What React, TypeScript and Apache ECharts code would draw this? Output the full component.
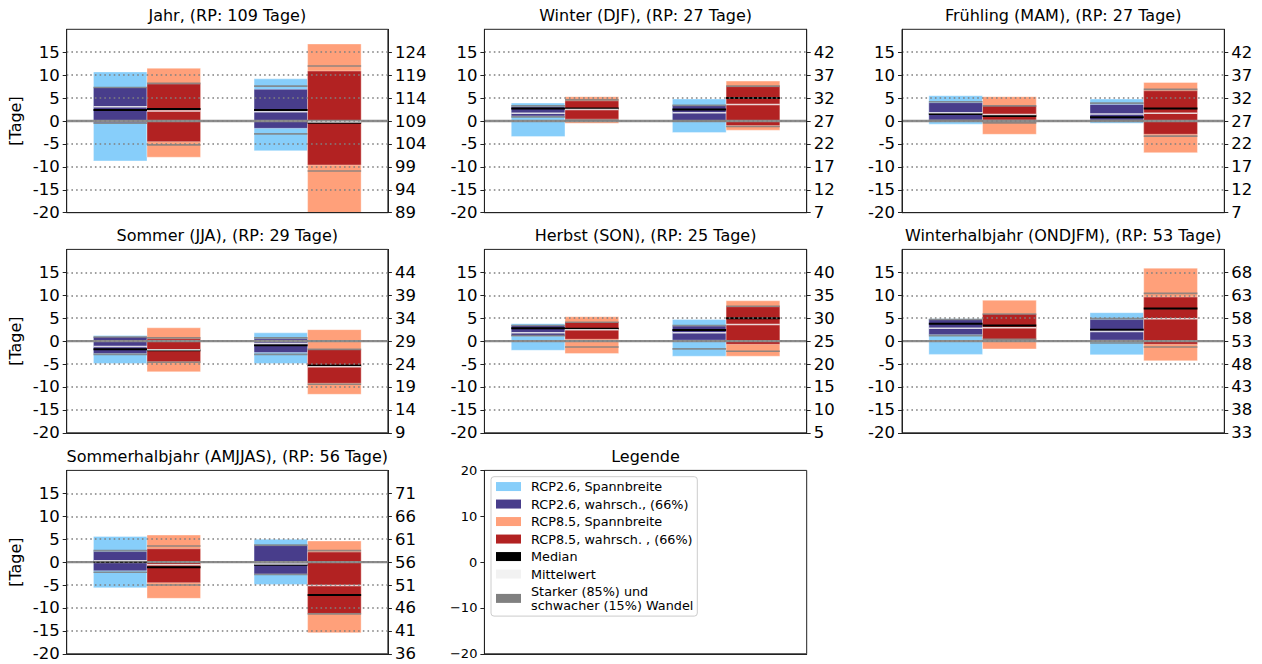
import React, { useEffect, useRef } from "react";
import * as echarts from "echarts";

// ---------- data (values in days, deviation from reference period) ----------
const panelTitles = [
  "Jahr",
  "Winter (DJF)",
  "Frühling (MAM)",
  "Sommer (JJA)",
  "Herbst (SON)",
  "Winterhalbjahr (ONDJFM)",
  "Sommerhalbjahr (AMJJAS)",
];
const referencePeriodDays = [109, 27, 27, 29, 25, 53, 56];
const groupCenters = [1, 3];
const zeroLineValue = 0;

// [panel][group]
const rcp26Min = [[-8.7, -6.5], [-3.4, -2.5], [-0.7, -0.5], [-4.9, -4.9], [-2.0, -3.3], [-2.9, -3.0], [-5.6, -4.9]];
const rcp26Max = [[10.7, 9.2], [3.9, 4.8], [5.5, 4.8], [1.2, 1.8], [3.8, 4.7], [4.9, 6.2], [5.6, 5.0]];
const rcp26LikelyLow = [[-0.4, -1.6], [1.1, 0.1], [0.2, 0.2], [-2.7, -2.5], [1.1, 0.2], [1.4, 0.2], [-1.9, -2.6]];
const rcp26LikelyHigh = [[7.3, 6.9], [3.1, 3.4], [4.0, 3.6], [0.9, 0.5], [3.4, 3.3], [4.7, 4.7], [2.3, 3.6]];
const rcp26P15 = [[-0.5, -2.8], [0.9, 0.0], [0.1, 0.1], [-2.9, -2.9], [1.2, -1.7], [1.2, -0.4], [-2.2, -2.7]];
const rcp26P85 = [[7.3, 7.6], [3.3, 3.4], [4.2, 3.9], [0.9, 0.7], [3.4, 3.4], [4.7, 4.9], [2.5, 3.7]];
const rcp26Median = [[2.4, 2.4], [2.7, 2.5], [1.5, 0.8], [-1.8, -0.9], [2.8, 2.4], [3.8, 2.5], [0.1, -0.6]];
const rcp26Mean = [[3.1, 2.0], [1.7, 1.8], [1.8, 1.5], [-1.2, -0.5], [1.8, 1.8], [2.8, 2.1], [0.3, -0.4]];

const rcp85Min = [[-7.9, -21.0], [-0.5, -2.0], [-2.9, -6.9], [-6.7, -11.6], [-2.7, -3.3], [-1.7, -4.3], [-7.9, -15.4]];
const rcp85Max = [[11.5, 16.8], [5.3, 8.7], [5.3, 8.4], [2.9, 2.5], [5.3, 8.8], [8.9, 15.9], [5.9, 4.6]];
const rcp85LikelyLow = [[-4.5, -9.6], [0.4, -1.0], [0.2, -2.9], [-4.5, -9.2], [0.4, -0.7], [0.4, -0.7], [-4.5, -11.2]];
const rcp85LikelyHigh = [[8.1, 10.9], [4.4, 7.5], [3.3, 6.6], [0.5, -1.8], [4.1, 7.5], [5.9, 9.6], [2.9, 2.2]];
const rcp85P15 = [[-5.2, -10.9], [0.2, -1.2], [-0.4, -3.3], [-4.6, -9.4], [-1.3, -2.2], [0.4, -1.3], [-5.0, -11.3]];
const rcp85P85 = [[8.2, 12.0], [4.6, 7.6], [3.3, 6.9], [0.7, -1.8], [4.1, 7.6], [5.9, 10.4], [3.5, 2.5]];
const rcp85Median = [[2.6, -0.4], [2.7, 5.0], [1.1, 2.7], [-2.0, -5.3], [2.7, 5.0], [3.4, 7.1], [-1.1, -7.2]];
const rcp85Mean = [[2.2, -0.2], [2.5, 3.6], [1.4, 1.7], [-1.9, -5.6], [2.5, 3.6], [2.9, 4.9], [-0.6, -5.1]];

const legendNames = [
  "RCP2.6, Spannbreite",
  "RCP2.6, wahrsch., (66%)",
  "RCP8.5, Spannbreite",
  "RCP8.5, wahrsch. , (66%)",
  "Median",
  "Mittelwert",
  "Starker (85%) und\nschwacher (15%) Wandel",
];
const legendAxisTicks = [-20, -10, 0, 10, 20];

// ---------- styling / layout ----------
const FONT = "'DejaVu Sans', sans-serif";
const COL_LEFT = [66.7, 484.4, 902];
const COL_WIDTH = [321.2, 322.3, 322.3];
const ROW_TOP = [29.3, 249.4, 470.4];
const ROW_HEIGHT = 183.4;
const BAR_W = 2 / 3;
const X_MIN = 0;
const X_MAX = 4;

const C_RANGE26 = "#87cefa";
const C_LIKELY26 = "#483d8b";
const C_RANGE85 = "#ffa07a";
const C_LIKELY85 = "#b22222";

function boxRender(color: string) {
  return (params: any, api: any) => {
    const p0 = api.coord([api.value(0), api.value(3)]);
    const p1 = api.coord([api.value(1), api.value(2)]);
    const rect = echarts.graphic.clipRectByRect(
      { x: p0[0], y: p0[1], width: p1[0] - p0[0], height: p1[1] - p0[1] },
      params.coordSys
    );
    if (!rect) return null;
    return {
      type: "rect",
      shape: rect,
      style: { fill: color, stroke: "rgba(255,255,255,0.35)", lineWidth: 1 },
    };
  };
}

function lineRender(color: string, width: number) {
  return (params: any, api: any) => {
    const a = api.coord([api.value(0), api.value(2)]);
    const b = api.coord([api.value(1), api.value(2)]);
    return {
      type: "line",
      shape: { x1: a[0], y1: a[1], x2: b[0], y2: b[1] },
      style: { stroke: color, lineWidth: width, fill: null },
    };
  };
}

function boxes(p: number, lo26: number[][], hi26: number[][], lo85: number[][], hi85: number[][]) {
  return {
    d26: groupCenters.map((c, g) => [c - BAR_W, c, lo26[p][g], hi26[p][g]]),
    d85: groupCenters.map((c, g) => [c, c + BAR_W, lo85[p][g], hi85[p][g]]),
  };
}

function lines(p: number, arrs: number[][][], scen: number[]) {
  const out: number[][] = [];
  arrs.forEach((arr, i) => {
    groupCenters.forEach((c, g) => {
      const x0 = scen[i] === 26 ? c - BAR_W : c;
      out.push([x0, x0 + BAR_W, arr[p][g]]);
    });
  });
  return out;
}

function buildOption() {
  const grid: any[] = [];
  const xAxis: any[] = [];
  const yAxis: any[] = [];
  const title: any[] = [];
  const series: any[] = [];

  const gridPos = (i: number) => ({
    left: COL_LEFT[i % 3],
    top: ROW_TOP[Math.floor(i / 3)],
    width: COL_WIDTH[i % 3],
    height: ROW_HEIGHT,
  });

  for (let p = 0; p < 8; p++) {
    const pos = gridPos(p);
    grid.push({
      ...pos,
      show: true,
      borderColor: "#222",
      borderWidth: 1,
      backgroundColor: "transparent",
      containLabel: false,
    });
    title.push({
      text: p < 7 ? `${panelTitles[p]}, (RP: ${referencePeriodDays[p]} Tage)` : "Legende",
      left: pos.left + pos.width / 2,
      top: pos.top - 21.5,
      textAlign: "center",
      padding: 0,
      textStyle: { fontFamily: FONT, fontSize: 16, fontWeight: "normal", color: "#000" },
    });
    xAxis.push({
      gridIndex: p,
      type: "value",
      min: X_MIN,
      max: X_MAX,
      z: 6,
      axisLine: { show: true, onZero: false, lineStyle: { color: "#222", width: 1 } },
      axisTick: { show: false },
      axisLabel: { show: false },
      splitLine: { show: false },
    });
  }

  for (let p = 0; p < 7; p++) {
    const rp = referencePeriodDays[p];
    yAxis.push({
      gridIndex: p,
      type: "value",
      position: "left",
      min: -20,
      max: 20,
      interval: 5,
      z: 6,
      name: p % 3 === 0 ? "[Tage]" : "",
      nameLocation: "middle",
      nameRotate: 90,
      nameGap: 43,
      nameTextStyle: { fontFamily: FONT, fontSize: 16, color: "#000" },
      axisLine: { show: true, onZero: false, lineStyle: { color: "#222", width: 1 } },
      axisTick: { show: true, length: 4, lineStyle: { color: "#222" } },
      axisLabel: {
        fontFamily: FONT,
        fontSize: 16.5,
        color: "#000",
        margin: 7,
        showMaxLabel: false,
        formatter: (v: number) => String(v),
      },
      splitLine: {
        show: true,
        showMinLine: false,
        showMaxLine: false,
        lineStyle: { color: "#808080", width: 1.6, type: [1.6, 3.1] },
      },
    });
    yAxis.push({
      gridIndex: p,
      type: "value",
      position: "right",
      min: -20,
      max: 20,
      interval: 5,
      z: 6,
      axisLine: { show: true, onZero: false, lineStyle: { color: "#222", width: 1 } },
      axisTick: { show: true, length: 4, lineStyle: { color: "#222" } },
      axisLabel: {
        fontFamily: FONT,
        fontSize: 16.5,
        color: "#000",
        margin: 7,
        showMaxLabel: false,
        formatter: (v: number) => String(v + rp),
      },
      splitLine: { show: false },
    });

    const yi = p * 2;
    const range = boxes(p, rcp26Min, rcp26Max, rcp85Min, rcp85Max);
    const likely = boxes(p, rcp26LikelyLow, rcp26LikelyHigh, rcp85LikelyLow, rcp85LikelyHigh);
    const common = { type: "custom", xAxisIndex: p, yAxisIndex: yi, encode: { x: [0, 1], y: [2] }, silent: true };

    series.push({ ...common, name: legendNames[0], z: 2, itemStyle: { color: C_RANGE26 }, renderItem: boxRender(C_RANGE26), data: range.d26 });
    series.push({ ...common, name: legendNames[2], z: 2, itemStyle: { color: C_RANGE85 }, renderItem: boxRender(C_RANGE85), data: range.d85 });
    series.push({ ...common, name: legendNames[1], z: 2, itemStyle: { color: C_LIKELY26 }, renderItem: boxRender(C_LIKELY26), data: likely.d26 });
    series.push({ ...common, name: legendNames[3], z: 2, itemStyle: { color: C_LIKELY85 }, renderItem: boxRender(C_LIKELY85), data: likely.d85 });
    // horizontal reference line at zero change
    series.push({
      ...common,
      name: "zero",
      z: 3,
      renderItem: lineRender("#8c8c8c", 2.4),
      data: [[X_MIN, X_MAX, zeroLineValue]],
    });
    series.push({
      ...common,
      name: legendNames[6],
      z: 4,
      itemStyle: { color: "#808080" },
      renderItem: lineRender("rgba(128,128,128,0.85)", 1.6),
      data: lines(p, [rcp26P15, rcp26P85, rcp85P15, rcp85P85], [26, 26, 85, 85]),
    });
    series.push({
      ...common,
      name: legendNames[4],
      z: 5,
      itemStyle: { color: "#000000" },
      renderItem: lineRender("#000000", 2),
      data: lines(p, [rcp26Median, rcp85Median], [26, 85]),
    });
    series.push({
      ...common,
      name: legendNames[5],
      z: 5,
      itemStyle: { color: "#f2f2f2" },
      renderItem: lineRender("rgba(245,245,245,0.85)", 1.5),
      data: lines(p, [rcp26Mean, rcp85Mean], [26, 85]),
    });
  }

  // legend panel axis
  yAxis.push({
    gridIndex: 7,
    type: "value",
    position: "left",
    min: legendAxisTicks[0],
    max: legendAxisTicks[legendAxisTicks.length - 1],
    interval: 10,
    axisLine: { show: true, onZero: false, lineStyle: { color: "#222", width: 1 } },
    axisTick: { show: true, length: 4, lineStyle: { color: "#222" } },
    axisLabel: {
      fontFamily: FONT,
      fontSize: 13,
      color: "#000",
      margin: 7,
      formatter: (v: number) => (v < 0 ? "\u2212" + Math.abs(v) : String(v)),
    },
    splitLine: { show: false },
  });

  return {
    animation: false,
    backgroundColor: "#ffffff",
    textStyle: { fontFamily: FONT },
    title,
    grid,
    xAxis,
    yAxis,
    legend: {
      orient: "vertical",
      left: 491,
      top: 476.7,
      padding: [3, 4, 4, 5],
      itemGap: 3.8,
      itemWidth: 25,
      itemHeight: 9,
      icon: "rect",
      selectedMode: false,
      backgroundColor: "#ffffff",
      borderColor: "#cccccc",
      borderWidth: 1,
      borderRadius: 3,
      textStyle: { fontFamily: FONT, fontSize: 12.8, color: "#000", lineHeight: 13.7, padding: [0, 0, 0, 5] },
      data: legendNames,
    },
    series,
  };
}

export default function App() {
  const ref = useRef<HTMLDivElement>(null);
  useEffect(() => {
    if (!ref.current) return;
    const chart = echarts.init(ref.current, undefined, { renderer: "svg" });
    chart.setOption(buildOption() as any);
    return () => chart.dispose();
  }, []);
  return (
    <div
      ref={ref}
      style={{ position: "fixed", left: 0, top: 0, width: 1262, height: 664, background: "#fff" }}
    />
  );
}
